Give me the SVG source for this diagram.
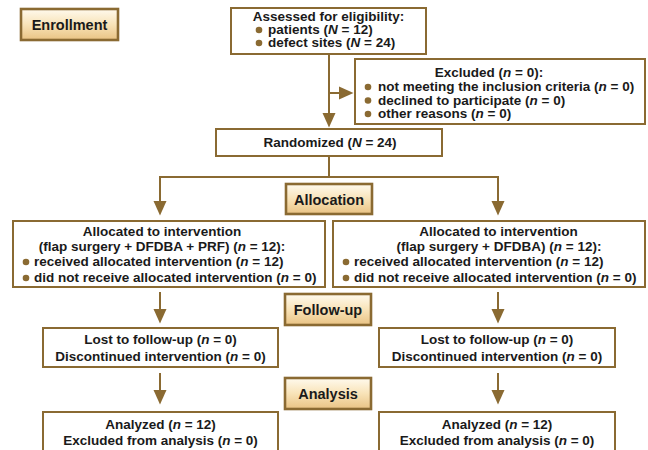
<svg xmlns="http://www.w3.org/2000/svg" width="648" height="450" viewBox="0 0 648 450">
<defs>
<linearGradient id="lg" x1="0" y1="0" x2="0" y2="1">
<stop offset="0" stop-color="#FFFAEE"/>
<stop offset="0.5" stop-color="#F8E3B8"/>
<stop offset="1" stop-color="#E9C384"/>
</linearGradient>
<marker id="ah" markerUnits="userSpaceOnUse" markerWidth="15" markerHeight="14" refX="0" refY="6.5" orient="auto" overflow="visible">
<path d="M0,0 L14.5,6.5 L0,13 Z" fill="#8A6A32"/>
</marker>
<style>
.box{fill:#fff;stroke:#8A6A32;stroke-width:2}
.lab{fill:url(#lg);stroke:#8A6A32;stroke-width:2.6}
.t{font-family:"Liberation Sans",Arial,sans-serif;font-weight:bold;font-size:13.5px;fill:#1a1a1a}
.lt{font-family:"Liberation Sans",Arial,sans-serif;font-weight:bold;font-size:14.5px;fill:#1a1a1a;text-anchor:middle}
.c{text-anchor:middle}
.b{fill:#8A6A32}
.ln{fill:none;stroke:#8A6A32;stroke-width:2}
</style>
</defs>
<g id="connectors">
<path class="ln" d="M329,54 V113" marker-end="url(#ah)"/>
<path class="ln" d="M329,93 H339" marker-end="url(#ah)"/>
<path class="ln" d="M329,156 V177 H160 V201" marker-end="url(#ah)"/>
<path class="ln" d="M329,177 H498 V201" marker-end="url(#ah)"/>
<path class="ln" d="M160,292 V309" marker-end="url(#ah)"/>
<path class="ln" d="M498,292 V309" marker-end="url(#ah)"/>
<path class="ln" d="M160,373 V390" marker-end="url(#ah)"/>
<path class="ln" d="M498,373 V390" marker-end="url(#ah)"/>
</g>
<g id="enrollment">
<rect class="lab" x="21" y="9" width="97" height="31"/>
<text class="lt" x="69.5" y="30">Enrollment</text>
</g>
<g id="assessed">
<rect class="box" x="231" y="8" width="195" height="46"/>
<text class="t c" x="328.5" y="21">Assessed for eligibility:</text>
<circle class="b" cx="259" cy="30" r="3.3"/>
<text class="t" x="268" y="34">patients (<tspan font-style="italic">N</tspan> = 12)</text>
<circle class="b" cx="259" cy="43" r="3.3"/>
<text class="t" x="268" y="47">defect sites (<tspan font-style="italic">N</tspan> = 24)</text>
</g>
<g id="excluded">
<rect class="box" x="355" y="59" width="290" height="65"/>
<text class="t c" x="489" y="77">Excluded (<tspan font-style="italic">n</tspan> = 0):</text>
<circle class="b" cx="368" cy="87" r="3.3"/>
<text class="t" x="378" y="91">not meeting the inclusion criteria (<tspan font-style="italic">n</tspan> = 0)</text>
<circle class="b" cx="368" cy="100.5" r="3.3"/>
<text class="t" x="378" y="104.5">declined to participate (<tspan font-style="italic">n</tspan> = 0)</text>
<circle class="b" cx="368" cy="114" r="3.3"/>
<text class="t" x="378" y="118">other reasons (<tspan font-style="italic">n</tspan> = 0)</text>
</g>
<g id="randomized">
<rect class="box" x="216" y="129" width="226" height="27"/>
<text class="t c" x="330" y="147">Randomized (<tspan font-style="italic">N</tspan> = 24)</text>
</g>
<g id="allocation">
<rect class="lab" x="286" y="184" width="86" height="30"/>
<text class="lt" x="329" y="204.5">Allocation</text>
</g>
<g id="alloc-left">
<rect class="box" x="13" y="221" width="312" height="66"/>
<text class="t c" x="162" y="236">Allocated to intervention</text>
<text class="t c" x="162" y="251">(flap surgery + DFDBA + PRF) (<tspan font-style="italic">n</tspan> = 12):</text>
<circle class="b" cx="26" cy="262" r="3.3"/>
<text class="t" x="34" y="266">received allocated intervention (<tspan font-style="italic">n</tspan> = 12)</text>
<circle class="b" cx="26" cy="278" r="3.3"/>
<text class="t" x="34" y="282">did not receive allocated intervention (<tspan font-style="italic">n</tspan> = 0)</text>
</g>
<g id="alloc-right">
<rect class="box" x="333" y="221" width="312" height="66"/>
<text class="t c" x="498.5" y="236">Allocated to intervention</text>
<text class="t c" x="499" y="251">(flap surgery + DFDBA) (<tspan font-style="italic">n</tspan> = 12):</text>
<circle class="b" cx="346" cy="262" r="3.3"/>
<text class="t" x="354" y="266">received allocated intervention (<tspan font-style="italic">n</tspan> = 12)</text>
<circle class="b" cx="346" cy="278" r="3.3"/>
<text class="t" x="354" y="282">did not receive allocated intervention (<tspan font-style="italic">n</tspan> = 0)</text>
</g>
<g id="followup">
<rect class="lab" x="285" y="294" width="86" height="31"/>
<text class="lt" x="328" y="315">Follow-up</text>
</g>
<g id="lost-left">
<rect class="box" x="43" y="328" width="235" height="39"/>
<text class="t c" x="160.5" y="344">Lost to follow-up (<tspan font-style="italic">n</tspan> = 0)</text>
<text class="t c" x="160.5" y="361">Discontinued intervention (<tspan font-style="italic">n</tspan> = 0)</text>
</g>
<g id="lost-right">
<rect class="box" x="379" y="328" width="236" height="39"/>
<text class="t c" x="497" y="344">Lost to follow-up (<tspan font-style="italic">n</tspan> = 0)</text>
<text class="t c" x="497" y="361">Discontinued intervention (<tspan font-style="italic">n</tspan> = 0)</text>
</g>
<g id="analysis">
<rect class="lab" x="285" y="378" width="86" height="31"/>
<text class="lt" x="328" y="399">Analysis</text>
</g>
<g id="analyzed-left">
<rect class="box" x="43" y="412" width="235" height="50"/>
<text class="t c" x="160.5" y="429">Analyzed (<tspan font-style="italic">n</tspan> = 12)</text>
<text class="t c" x="160.5" y="445">Excluded from analysis (<tspan font-style="italic">n</tspan> = 0)</text>
</g>
<g id="analyzed-right">
<rect class="box" x="379" y="412" width="236" height="50"/>
<text class="t c" x="497" y="429">Analyzed (<tspan font-style="italic">n</tspan> = 12)</text>
<text class="t c" x="497" y="445">Excluded from analysis (<tspan font-style="italic">n</tspan> = 0)</text>
</g>
</svg>
